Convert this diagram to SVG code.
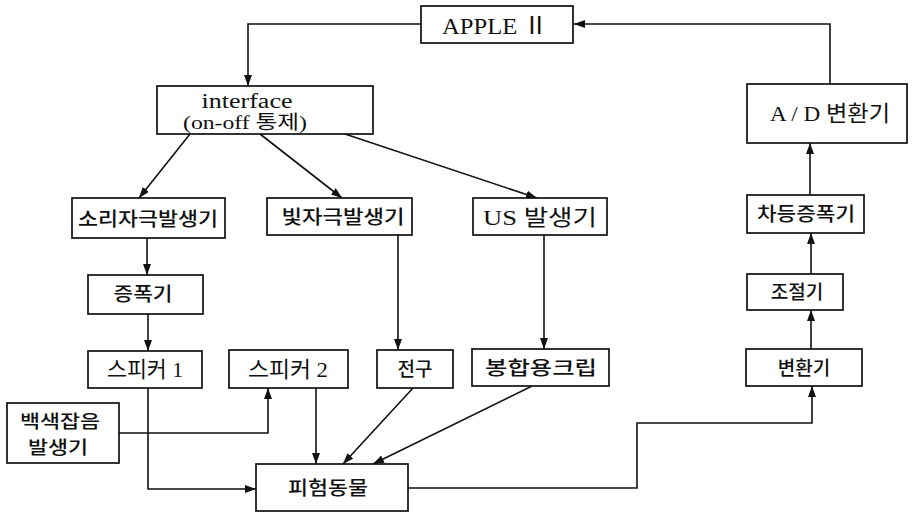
<svg xmlns="http://www.w3.org/2000/svg" width="914" height="514" viewBox="0 0 914 514">
<defs>
<marker id="ah" markerUnits="userSpaceOnUse" markerWidth="11" markerHeight="8" refX="11" refY="4" orient="auto">
<path d="M0,0 L11,4 L0,8 z" fill="#111"/>
</marker>
<style>
.box{fill:#fff;stroke:#111;stroke-width:1.7}
.t{font-family:"Liberation Serif","Noto Sans CJK KR",serif;font-size:22px;fill:#111;text-anchor:middle}
.k{font-family:"Noto Sans CJK KR","Liberation Sans",sans-serif;font-size:19px;font-weight:500;fill:#111;text-anchor:middle}
.c{fill:none;stroke:#111;stroke-width:1.6}
.a{marker-end:url(#ah)}
</style>
</defs>
<rect width="914" height="514" fill="#fff"/>
<g id="connectors">
<path class="c a" d="M421,24 H248 V86"/>
<path class="c a" d="M830,84 V24 H574"/>
<path class="c a" d="M190,134 L139,198"/>
<path class="c a" d="M260,134 L342,198"/>
<path class="c a" d="M345,134 L537,198"/>
<path class="c a" d="M147,238 V275"/>
<path class="c a" d="M148,314 V351"/>
<path class="c a" d="M398,235 V350"/>
<path class="c a" d="M544,235 V349"/>
<path class="c a" d="M148,388 V489 H256"/>
<path class="c a" d="M119,433 H268 V388"/>
<path class="c a" d="M316,388 V464"/>
<path class="c a" d="M413,388 L343,464"/>
<path class="c a" d="M532,386 L373,464"/>
<path class="c a" d="M408,488 H637 V423 H812 V386"/>
<path class="c a" d="M811,349 V310"/>
<path class="c a" d="M811,274 V233"/>
<path class="c a" d="M810,195 V143"/>
</g>
<g id="apple"><rect class="box" x="421" y="6" width="152" height="37"/><text class="t" x="495" y="34" style="font-size:24px" textLength="106" lengthAdjust="spacingAndGlyphs">APPLE Ⅱ</text></g>
<g id="interface"><rect class="box" x="157" y="86" width="216" height="48"/><text class="t" x="247" y="108" style="font-size:20px" textLength="91" lengthAdjust="spacingAndGlyphs">interface</text><text class="t" x="245" y="129" style="font-size:19px" textLength="124" lengthAdjust="spacingAndGlyphs">(on-off 통제)</text></g>
<g id="sound"><rect class="box" x="72" y="198" width="153" height="40"/><text class="k" x="148" y="226" textLength="140" lengthAdjust="spacingAndGlyphs">소리자극발생기</text></g>
<g id="light"><rect class="box" x="267" y="198" width="145" height="37"/><text class="k" x="343" y="224" textLength="123" lengthAdjust="spacingAndGlyphs">빛자극발생기</text></g>
<g id="us"><rect class="box" x="473" y="198" width="134" height="37"/><text class="t" x="540" y="225" textLength="114" lengthAdjust="spacingAndGlyphs">US 발생기</text></g>
<g id="amp"><rect class="box" x="88" y="275" width="115" height="39"/><text class="k" x="143" y="301" textLength="59" lengthAdjust="spacingAndGlyphs">증폭기</text></g>
<g id="spk1"><rect class="box" x="88" y="351" width="114" height="37"/><text class="t" x="145" y="377" textLength="76" lengthAdjust="spacingAndGlyphs">스피커 1</text></g>
<g id="spk2"><rect class="box" x="229" y="350" width="119" height="38"/><text class="t" x="288" y="377" textLength="80" lengthAdjust="spacingAndGlyphs">스피커 2</text></g>
<g id="bulb"><rect class="box" x="377" y="350" width="76" height="38"/><text class="k" x="415" y="376">전구</text></g>
<g id="clip"><rect class="box" x="472" y="349" width="137" height="37"/><text class="k" x="541" y="375" textLength="112" lengthAdjust="spacingAndGlyphs">봉합용크립</text></g>
<g id="noise"><rect class="box" x="7" y="403" width="112" height="60"/><text class="k" x="60" y="428" style="font-size:18px" textLength="80" lengthAdjust="spacingAndGlyphs">백색잡음</text><text class="k" x="58" y="454" style="font-size:18px" textLength="60" lengthAdjust="spacingAndGlyphs">발생기</text></g>
<g id="animal"><rect class="box" x="256" y="464" width="152" height="47"/><text class="k" x="328" y="495" textLength="80" lengthAdjust="spacingAndGlyphs">피험동물</text></g>
<g id="ad"><rect class="box" x="747" y="84" width="160" height="59"/><text class="t" x="830" y="121" textLength="120" lengthAdjust="spacingAndGlyphs">A / D 변환기</text></g>
<g id="diffamp"><rect class="box" x="747" y="195" width="117" height="38"/><text class="k" x="806" y="221" textLength="98" lengthAdjust="spacingAndGlyphs">차등증폭기</text></g>
<g id="ctrl"><rect class="box" x="747" y="274" width="96" height="36"/><text class="k" x="797" y="299">조절기</text></g>
<g id="conv"><rect class="box" x="746" y="349" width="116" height="37"/><text class="k" x="804" y="375">변환기</text></g>
</svg>
